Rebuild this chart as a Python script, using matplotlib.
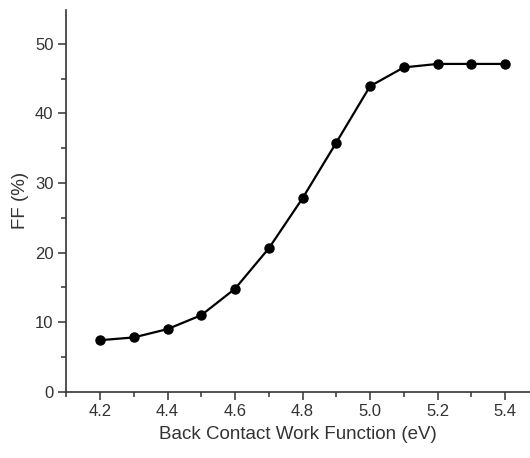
import matplotlib
matplotlib.use("Agg")
import matplotlib.pyplot as plt
from matplotlib.ticker import MultipleLocator

plt.rcParams['font.family'] = ['Liberation Sans', 'DejaVu Sans']

work_function = [4.2, 4.3, 4.4, 4.5, 4.6, 4.7, 4.8, 4.9, 5.0, 5.1, 5.2, 5.3, 5.4]
ff = [7.4, 7.8, 9.0, 11.0, 14.8, 20.6, 27.8, 35.8, 43.9, 46.6, 47.1, 47.1, 47.1]

W, H = 530, 458
fig = plt.figure(figsize=(W / 100, H / 100), dpi=100)
ax = fig.add_axes([66 / W, (H - 391.7) / H, (W - 66) / W, (391.7 - 10) / H])

ax.plot(work_function, ff, color='black', lw=1.6, marker='o', ms=6.5)

ax.set_xlim(4.099, 5.474)
ax.set_ylim(0, 54.85)
ax.xaxis.set_major_locator(MultipleLocator(0.2))
ax.xaxis.set_minor_locator(MultipleLocator(0.1))
ax.yaxis.set_major_locator(MultipleLocator(10))
ax.yaxis.set_minor_locator(MultipleLocator(5))
ax.xaxis.set_major_formatter(matplotlib.ticker.FormatStrFormatter('%.1f'))

for s in ['top', 'right']:
    ax.spines[s].set_visible(False)
for s in ['left', 'bottom']:
    ax.spines[s].set_color('#333333')
    ax.spines[s].set_linewidth(1.2)

ax.tick_params(which='major', direction='out', length=6, width=1.1, colors='#333333',
               labelsize=12, labelcolor='#333333', pad=3)
ax.tick_params(which='minor', direction='out', length=3.5, width=1.1, colors='#333333')

ax.set_xlabel('Back Contact Work Function (eV)', fontsize=13.5, color='#333333', labelpad=5)
ax.set_ylabel('FF (%)', fontsize=13.5, color='#333333', labelpad=4)

fig.savefig('out.png', dpi=100)
